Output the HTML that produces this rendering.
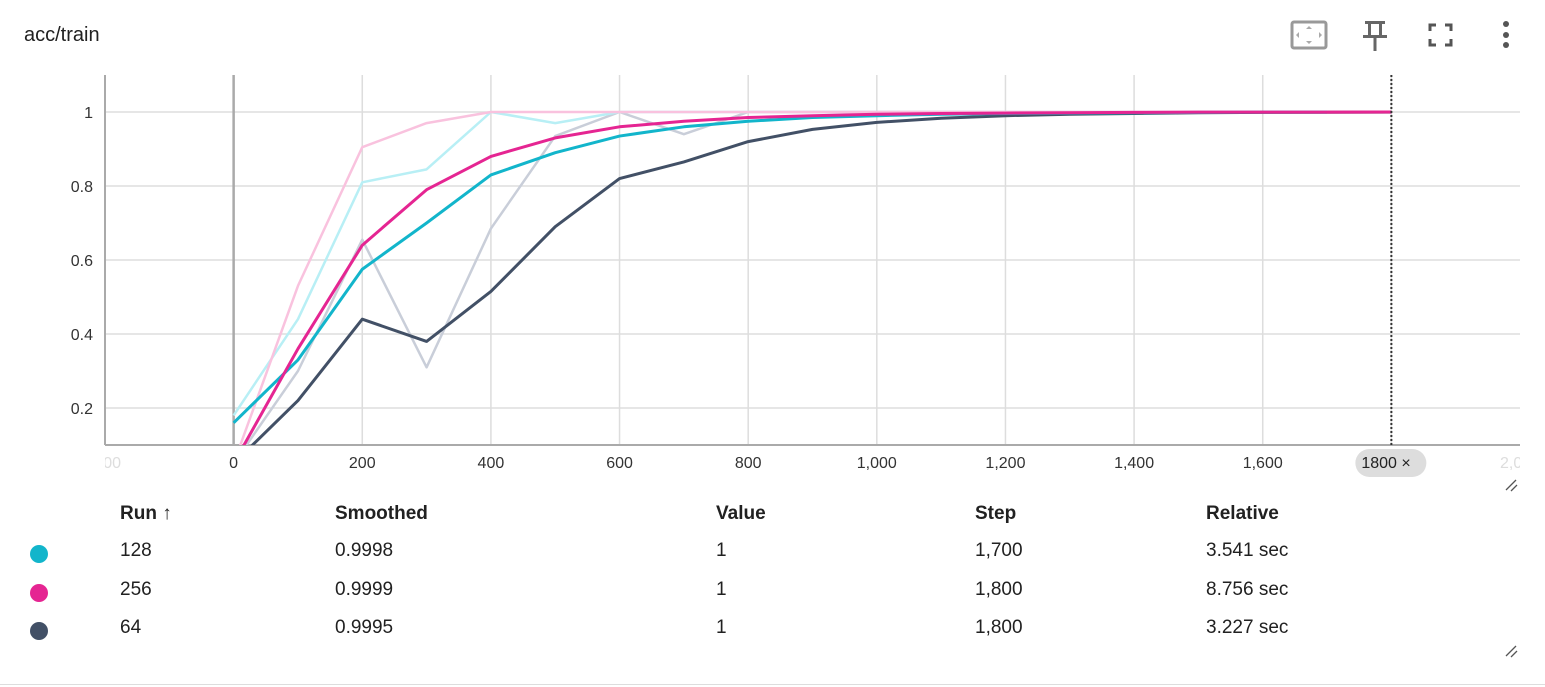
<!DOCTYPE html>
<html><head><meta charset="utf-8"><style>
body{margin:0;width:1545px;height:687px;background:#fff;font-family:"Liberation Sans",sans-serif;color:#212121;position:relative;overflow:hidden}
.t{position:absolute;font-size:19px}
.h{position:absolute;font-size:19px;font-weight:bold;top:503px}
.dot{position:absolute;width:18px;height:18px;border-radius:50%;left:30px}
</style></head><body>
<div class="t" style="left:24px;top:24px;font-size:20px">acc/train</div>
<svg style="position:absolute;left:1280px;top:10px" width="260" height="60">
<g><rect x="12" y="12" width="34" height="26" rx="2" fill="none" stroke="#999" stroke-width="3"/><path d="M29 16l-3 3h6zM29 34l-3-3h6zM16 25l3-3v6zM42 25l-3-3v6z" fill="#aaa"/></g>
<g fill="#666"><rect x="85" y="11" width="20" height="3"/><rect x="88" y="11" width="3" height="15"/><rect x="99" y="11" width="3" height="15"/><rect x="83" y="25" width="24" height="3"/><rect x="93.5" y="27" width="3" height="14"/></g>
<g fill="none" stroke="#555" stroke-width="3"><path d="M150 21v-6h6M165 15h6v6M171 29v6h-6M156 35h-6v-6"/></g>
<g fill="#555"><circle cx="226" cy="14" r="3"/><circle cx="226" cy="25" r="3"/><circle cx="226" cy="35" r="3"/></g>
</svg>
<svg id="chart" style="position:absolute;left:0;top:0" width="1545" height="500"></svg>
<div class="h" style="left:120px">Run ↑</div>
<div class="h" style="left:335px">Smoothed</div>
<div class="h" style="left:716px">Value</div>
<div class="h" style="left:975px">Step</div>
<div class="h" style="left:1206px">Relative</div>
<div id="rows"></div>
<div style="position:absolute;left:0;top:684px;width:1545px;height:1px;background:#ddd"></div>
<svg style="position:absolute;left:1504px;top:478px" width="16" height="180"><path d="M2 12L12 2M7 13L13 7" stroke="#555" stroke-width="1.3"/><path d="M2 178L12 168M7 179L13 173" stroke="#555" stroke-width="1.3"/></svg>
<script>
const steps=[0,100,200,300,400,500,600,700,800,900,1000,1100,1200,1300,1400,1500,1600,1700,1800];
const raw128=[0.18,0.44,0.81,0.845,1,0.97,1,1,1,1,1,1,1,1,1,1,1,1];
const sm128=[0.16,0.33,0.575,0.70,0.83,0.89,0.935,0.96,0.975,0.985,0.99,0.994,0.996,0.997,0.998,0.999,0.9995,0.9998];
const raw256=[0.05,0.53,0.905,0.97,1,1,1,1,1,1,1,1,1,1,1,1,1,1,1];
const sm256=[0.05,0.36,0.64,0.79,0.88,0.93,0.96,0.975,0.985,0.99,0.994,0.996,0.997,0.998,0.999,0.9995,0.9997,0.9998,0.9999];
const raw64=[0.05,0.30,0.655,0.31,0.685,0.935,1,0.94,1,1,1,1,1,1,1,1,1,1,1];
const sm64=[0.05,0.22,0.44,0.38,0.515,0.69,0.82,0.865,0.92,0.953,0.972,0.983,0.99,0.994,0.996,0.998,0.999,0.9993,0.9995];
const xTicks=[-200,0,200,400,600,800,1000,1200,1400,1600,1800,2000];
const xLabels=["-200","0","200","400","600","800","1,000","1,200","1,400","1,600","1,800","2,000"];
const yTicks=[0.2,0.4,0.6,0.8,1];
const runs=["128","256","64"],smVals=["0.9998","0.9999","0.9995"],vals=["1","1","1"],stepV=["1,700","1,800","1,800"],rel=["3.541 sec","8.756 sec","3.227 sec"];
const colors=["#12b5cb","#e52592","#425066"],light=["#b8eff5","#f9c2de","#c9ced9"];
const X=v=>105+(v+200)*1415/2200, Y=v=>445-(v-0.1)*370;
const NS="http://www.w3.org/2000/svg",svg=document.getElementById('chart');
function mk(t,a,p){const e=document.createElementNS(NS,t);for(const k in a)e.setAttribute(k,a[k]);(p||svg).appendChild(e);return e;}
const defs=mk('defs',{});const cp=mk('clipPath',{id:'c'},defs);mk('rect',{x:105,y:75,width:1415,height:370},cp);
const cp2=mk('clipPath',{id:'c2'},defs);mk('rect',{x:105,y:445,width:1415,height:40},cp2);
const lg=mk('g',{'clip-path':'url(#c2)'});
yTicks.forEach(v=>{const l=mk('line',{x1:105,x2:1520,y1:Y(v),y2:Y(v),stroke:'#ddd','stroke-width':1.5});

const t=mk('text',{x:93,y:Y(v)+6,'text-anchor':'end','font-size':16,fill:'#333'});t.textContent=String(v);
});
xTicks.forEach((v,i)=>{if(v>-200&&v<2000){const l=mk('line',{x1:X(v),x2:X(v),y1:75,y2:445,stroke:v==0?'#aaa':'#ddd','stroke-width':v==0?2.5:1.5});
}
if(v==1800)return;
const t=mk('text',{x:X(v),y:468,'text-anchor':'middle','font-size':16,fill:(v==-200||v==2000)?'#ddd':'#333'},lg);t.textContent=xLabels[i];
});
mk('line',{x1:105,x2:105,y1:75,y2:445,stroke:'#aaa','stroke-width':2});
mk('line',{x1:105,x2:1520,y1:445,y2:445,stroke:'#aaa','stroke-width':2});
const g=mk('g',{'clip-path':'url(#c)'});
function line(d,c,w,name){const p=mk('polyline',{points:d.map((v,i)=>X(steps[i])+','+Y(v)).join(' '),fill:'none',stroke:c,'stroke-width':w,'stroke-linejoin':'round'},g);
}
line(raw64,light[2],2.5,'raw-line-64');line(raw128,light[0],2.5,'raw-line-128');line(raw256,light[1],2.5,'raw-line-256');
line(sm64,colors[2],3,'smoothed-line-64');line(sm128,colors[0],3,'smoothed-line-128');line(sm256,colors[1],3,'smoothed-line-256');
const cur=mk('line',{x1:X(1800),x2:X(1800),y1:75,y2:445,stroke:'#333','stroke-width':2,'stroke-dasharray':'2,2'});

const b=mk('g',{});
mk('rect',{x:X(1800)-36,y:449,width:71,height:28,rx:14,fill:'#ddd'},b);
const bt=mk('text',{x:X(1800)-30,y:468,'font-size':16,fill:'#222'},b);bt.textContent='1800 ×';
const rows=document.getElementById('rows');
runs.forEach((r,i)=>{const top=[540,579,617][i];
const row=document.createElement('div');
row.innerHTML=`<div class="dot" style="top:${top+5}px;background:${colors[i]}"></div>`+
[[120,r],[335,smVals[i]],[716,vals[i]],[975,stepV[i]],[1206,rel[i]]].map(a=>`<div class="t" style="left:${a[0]}px;top:${top}px">${a[1]}</div>`).join('');
rows.appendChild(row);});
</script>
</body></html>
